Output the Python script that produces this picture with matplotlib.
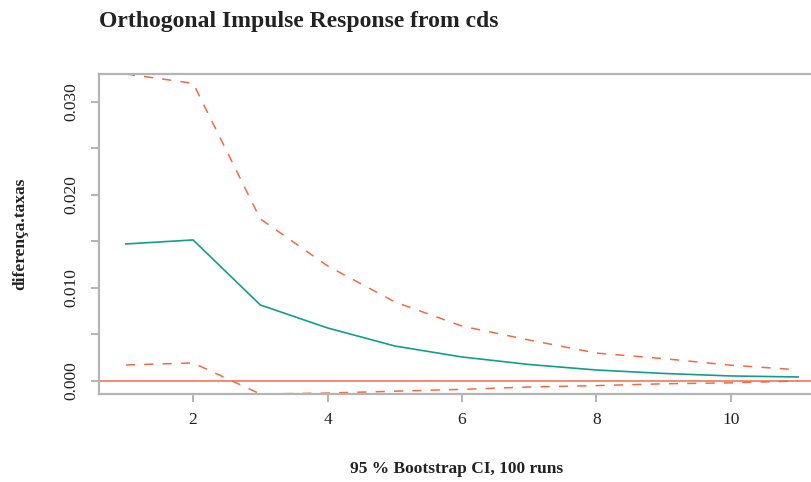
import matplotlib
matplotlib.use("Agg")
import matplotlib.pyplot as plt

# horizon and impulse responses
horizon = [1, 2, 3, 4, 5, 6, 7, 8, 9, 10, 11]
irf = [0.01473, 0.01516, 0.00817, 0.00570, 0.00376, 0.00258, 0.00177, 0.00118, 0.00081, 0.00054, 0.00043]
upper = [0.0330, 0.0320, 0.01742, 0.01237, 0.0085, 0.0059, 0.0044, 0.0030, 0.0024, 0.0017, 0.0012]
lower = [0.00172, 0.00194, -0.0014, -0.0013, -0.0011, -0.0009, -0.00065, -0.0005, -0.0003, -0.0002, 0.0000]

x_ticks = [2, 4, 6, 8, 10]
y_ticks = [0.000, 0.005, 0.010, 0.015, 0.020, 0.025, 0.030]
y_labels = ["0.000", "", "0.010", "", "0.020", "", "0.030"]

teal = "#129e8e"
orange = "#f26b45"
grey = "#b4b4b4"

plt.rcParams["font.family"] = ["Liberation Serif", "DejaVu Serif"]

W, H = 812, 482
fig = plt.figure(figsize=(W / 100, H / 100), dpi=100)
# axes box runs past the right edge of the picture, as in the reference
ax = fig.add_axes([99 / W, 1 - 394 / H, (825 - 99) / W, (394 - 74) / H])

ax.axhline(0, color=orange, lw=1.1, zorder=1)
ax.plot(horizon, irf, color=teal, lw=1.2)
ax.plot(horizon, upper, color=orange, lw=1.1, ls=(0, (6, 6)), clip_on=False)
ax.plot(horizon, lower, color=orange, lw=1.1, ls=(0, (6, 6)), clip_on=False)

ax.set_xlim(0.6, 11.4)
ax.set_ylim(-0.0014, 0.0330)

ax.set_xticks(x_ticks)
ax.set_yticks(y_ticks)
ax.set_yticklabels(y_labels, rotation=90, va="center")
for s in ["left", "bottom", "top", "right"]:
    ax.spines[s].set_color(grey)
    ax.spines[s].set_linewidth(1.6)
ax.tick_params(colors=grey, labelcolor="#222222", labelsize=12.5, width=1.4, length=6)
ax.tick_params(axis="x", pad=7)
ax.tick_params(axis="y", pad=8)

fig.text(99 / W, 1 - 21 / H, "Orthogonal Impulse Response from cds", fontsize=17,
         fontweight="bold", color="#222222", ha="left", va="center")
fig.text(20 / W, 1 - 234 / H, "diferença.taxas", fontsize=12.5, fontweight="bold",
         color="#222222", rotation=90, ha="center", va="center")
fig.text(457 / W, 1 - 469 / H, "95 % Bootstrap CI, 100 runs", fontsize=12.5,
         fontweight="bold", color="#222222", ha="center", va="center")

fig.savefig("out.png", dpi=100)
